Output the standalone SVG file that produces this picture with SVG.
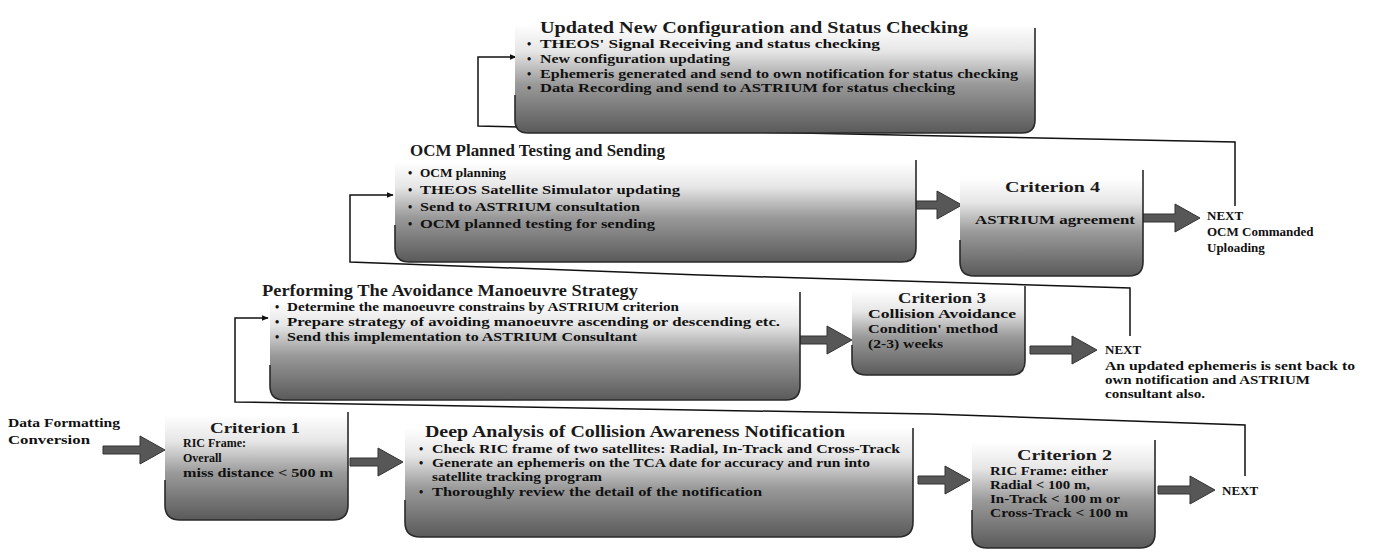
<svg xmlns="http://www.w3.org/2000/svg" width="1374" height="553" viewBox="0 0 1374 553">
<style>
.title{font-family:"Liberation Serif","DejaVu Serif",serif;font-weight:bold;font-size:16px;fill:#1a1a1a}
.crit{font-family:"Liberation Serif","DejaVu Serif",serif;font-weight:bold;font-size:15px;fill:#1a1a1a}
.body{font-family:"Liberation Serif","DejaVu Serif",serif;font-weight:bold;font-size:12px;fill:#111}
.lbl{font-family:"Liberation Serif","DejaVu Serif",serif;font-weight:bold;font-size:13px;fill:#111}
.box{fill:url(#g)}
.edge{fill:none;stroke:#2a2a2a;stroke-width:1.6}
.barrow{fill:#575757;stroke:#333;stroke-width:1}
.loop{fill:none;stroke:#111;stroke-width:1.5}
</style>
<defs>
<linearGradient id="g" x1="0" y1="0" x2="0" y2="1">
<stop offset="0" stop-color="#ffffff"/>
<stop offset="0.25" stop-color="#e6e6e6"/>
<stop offset="0.55" stop-color="#9a9a9a"/>
<stop offset="1" stop-color="#5a5a5a"/>
</linearGradient>
<marker id="ah" viewBox="0 0 10 10" refX="9" refY="5" markerWidth="7" markerHeight="7" orient="auto" markerUnits="userSpaceOnUse">
<path d="M0,1 L10,5 L0,9 Z" fill="#111"/>
</marker>
</defs>
<rect width="1374" height="553" fill="#ffffff"/>

<g id="connectors">
<polyline class="loop" points="1245,476 1245,425 930,414 235,402 235,318 268,318" marker-end="url(#ah)"/>
<polyline class="loop" points="1130,336 1130,288 700,275 350,262 350,195 393,195" marker-end="url(#ah)"/>
<polyline class="loop" points="1235,206 1235,142 800,133 478,126 478,57 516,57" marker-end="url(#ah)"/>
<path class="barrow" d="M103,446 H140 V436 L165,450 L140,464 V454 H103 Z"/>
<path class="barrow" d="M350,458 H378 V448 L403,462 L378,476 V466 H350 Z"/>
<path class="barrow" d="M918,476 H945 V466 L970,480 L945,494 V484 H918 Z"/>
<path class="barrow" d="M1158,486 H1190 V476 L1215,490 L1190,504 V494 H1158 Z"/>
<path class="barrow" d="M800,336 H827 V326 L852,340 L827,354 V344 H800 Z"/>
<path class="barrow" d="M1030,346 H1072 V336 L1097,350 L1072,364 V354 H1030 Z"/>
<path class="barrow" d="M916,201 H937 V191 L962,205 L937,219 V209 H916 Z"/>
<path class="barrow" d="M1143,214 H1175 V204 L1200,218 L1175,232 V222 H1143 Z"/>
</g>

<g id="top-box">
<path class="box" d="M515,24 V120 Q515,133 528,133 H1022 Q1035,133 1035,120 V24 Z"/>
<path class="edge" d="M515,95 V120 Q515,133 528,133 H1022 Q1035,133 1035,120 V28"/>
<text class="title" x="540" y="33" textLength="428" lengthAdjust="spacingAndGlyphs">Updated New Configuration and Status Checking</text>
<text class="body" x="527" y="48">•</text><text class="body" x="540" y="48" textLength="340" lengthAdjust="spacingAndGlyphs">THEOS' Signal Receiving and status checking</text>
<text class="body" x="527" y="63">•</text><text class="body" x="540" y="63" textLength="190" lengthAdjust="spacingAndGlyphs">New configuration updating</text>
<text class="body" x="527" y="78">•</text><text class="body" x="540" y="78" textLength="478" lengthAdjust="spacingAndGlyphs">Ephemeris generated and send to own notification for status checking</text>
<text class="body" x="527" y="92">•</text><text class="body" x="540" y="92" textLength="415" lengthAdjust="spacingAndGlyphs">Data Recording and send to ASTRIUM for status checking</text>
</g>

<g id="ocm-box">
<path class="box" d="M395,162 V248 Q395,262 409,262 H902 Q916,262 916,248 V162 Z"/>
<path class="edge" d="M395,225 V248 Q395,262 409,262 H902 Q916,262 916,248 V160"/>
<text class="title" x="410" y="156" textLength="255" lengthAdjust="spacingAndGlyphs">OCM Planned Testing and Sending</text>
<text class="body" x="408" y="177">•</text><text class="body" x="420" y="177" textLength="86" lengthAdjust="spacingAndGlyphs">OCM planning</text>
<text class="body" x="408" y="194">•</text><text class="body" x="420" y="194" textLength="260" lengthAdjust="spacingAndGlyphs">THEOS Satellite Simulator updating</text>
<text class="body" x="408" y="211">•</text><text class="body" x="420" y="211" textLength="220" lengthAdjust="spacingAndGlyphs">Send to ASTRIUM consultation</text>
<text class="body" x="408" y="228">•</text><text class="body" x="420" y="228" textLength="235" lengthAdjust="spacingAndGlyphs">OCM planned testing for sending</text>
</g>

<g id="criterion4">
<path class="box" d="M960,178 V262 Q960,276 974,276 H1129 Q1143,276 1143,262 V178 Z"/>
<path class="edge" d="M960,240 V262 Q960,276 974,276 H1129 Q1143,276 1143,262 V170"/>
<text class="crit" x="1005" y="192" textLength="95" lengthAdjust="spacingAndGlyphs">Criterion 4</text>
<text class="body" x="975" y="224" textLength="160" lengthAdjust="spacingAndGlyphs">ASTRIUM agreement</text>
</g>

<g id="next4">
<text class="lbl" x="1207" y="220">NEXT</text>
<text class="lbl" x="1207" y="236">OCM Commanded</text>
<text class="lbl" x="1207" y="252">Uploading</text>
</g>

<g id="performing-box">
<path class="box" d="M270,300 V386 Q270,400 284,400 H786 Q800,400 800,386 V300 Z"/>
<path class="edge" d="M270,365 V386 Q270,400 284,400 H786 Q800,400 800,386 V292"/>
<text class="title" x="262" y="296" textLength="376" lengthAdjust="spacingAndGlyphs">Performing The Avoidance Manoeuvre Strategy</text>
<text class="body" x="275" y="311">•</text><text class="body" x="287" y="311" textLength="392" lengthAdjust="spacingAndGlyphs">Determine the manoeuvre constrains by ASTRIUM criterion</text>
<text class="body" x="275" y="326">•</text><text class="body" x="287" y="326" textLength="493" lengthAdjust="spacingAndGlyphs">Prepare strategy of avoiding manoeuvre ascending or descending etc.</text>
<text class="body" x="275" y="341">•</text><text class="body" x="287" y="341" textLength="350" lengthAdjust="spacingAndGlyphs">Send this implementation to ASTRIUM Consultant</text>
</g>

<g id="criterion3">
<path class="box" d="M852,290 V361 Q852,375 866,375 H1011 Q1025,375 1025,361 V290 Z"/>
<path class="edge" d="M852,345 V361 Q852,375 866,375 H1011 Q1025,375 1025,361 V286"/>
<text class="crit" x="898" y="303" textLength="88" lengthAdjust="spacingAndGlyphs">Criterion 3</text>
<text class="body" x="868" y="318" textLength="148" lengthAdjust="spacingAndGlyphs">Collision Avoidance</text>
<text class="body" x="868" y="333" textLength="130" lengthAdjust="spacingAndGlyphs">Condition' method</text>
<text class="body" x="868" y="348" textLength="75" lengthAdjust="spacingAndGlyphs">(2-3) weeks</text>
</g>

<g id="next3">
<text class="lbl" x="1105" y="354">NEXT</text>
<text class="lbl" x="1105" y="370" textLength="250" lengthAdjust="spacingAndGlyphs">An updated ephemeris is sent back to</text>
<text class="lbl" x="1105" y="384" textLength="205" lengthAdjust="spacingAndGlyphs">own notification and ASTRIUM</text>
<text class="lbl" x="1105" y="398" textLength="100" lengthAdjust="spacingAndGlyphs">consultant also.</text>
</g>

<g id="data-formatting">
<text class="lbl" x="8" y="427" textLength="112" lengthAdjust="spacingAndGlyphs">Data Formatting</text>
<text class="lbl" x="8" y="444" textLength="82" lengthAdjust="spacingAndGlyphs">Conversion</text>
</g>

<g id="criterion1">
<path class="box" d="M165,415 V505 Q165,520 180,520 H333 Q348,520 348,505 V415 Z"/>
<path class="edge" d="M165,480 V505 Q165,520 180,520 H333 Q348,520 348,505 V412"/>
<text class="crit" x="210" y="433" textLength="90" lengthAdjust="spacingAndGlyphs">Criterion 1</text>
<text class="body" x="183" y="447">RIC Frame:</text>
<text class="body" x="183" y="462">Overall</text>
<text class="body" x="183" y="477" textLength="150" lengthAdjust="spacingAndGlyphs">miss distance &lt; 500 m</text>
</g>

<g id="deep-analysis-box">
<path class="box" d="M405,428 V522 Q405,537 420,537 H898 Q913,537 913,522 V428 Z"/>
<path class="edge" d="M405,500 V522 Q405,537 420,537 H898 Q913,537 913,522 V428"/>
<text class="title" x="425" y="437" textLength="420" lengthAdjust="spacingAndGlyphs">Deep Analysis of Collision Awareness Notification</text>
<text class="body" x="419" y="453">•</text><text class="body" x="432" y="453" textLength="468" lengthAdjust="spacingAndGlyphs">Check RIC frame of two satellites: Radial, In-Track and Cross-Track</text>
<text class="body" x="419" y="467">•</text><text class="body" x="432" y="467" textLength="438" lengthAdjust="spacingAndGlyphs">Generate an ephemeris on the TCA date for accuracy and run into</text>
<text class="body" x="432" y="481" textLength="170" lengthAdjust="spacingAndGlyphs">satellite tracking program</text>
<text class="body" x="419" y="496">•</text><text class="body" x="432" y="496" textLength="330" lengthAdjust="spacingAndGlyphs">Thoroughly review the detail of the notification</text>
</g>

<g id="criterion2">
<path class="box" d="M972,442 V533 Q972,548 987,548 H1140 Q1155,548 1155,533 V442 Z"/>
<path class="edge" d="M972,510 V533 Q972,548 987,548 H1140 Q1155,548 1155,533 V440"/>
<text class="crit" x="1017" y="460" textLength="95" lengthAdjust="spacingAndGlyphs">Criterion 2</text>
<text class="body" x="990" y="475" textLength="118" lengthAdjust="spacingAndGlyphs">RIC Frame: either</text>
<text class="body" x="990" y="489" textLength="100" lengthAdjust="spacingAndGlyphs">Radial &lt; 100 m,</text>
<text class="body" x="990" y="503" textLength="130" lengthAdjust="spacingAndGlyphs">In-Track &lt; 100 m or</text>
<text class="body" x="990" y="517" textLength="138" lengthAdjust="spacingAndGlyphs">Cross-Track &lt; 100 m</text>
</g>

<g id="next2">
<text class="lbl" x="1222" y="495">NEXT</text>
</g>
</svg>
